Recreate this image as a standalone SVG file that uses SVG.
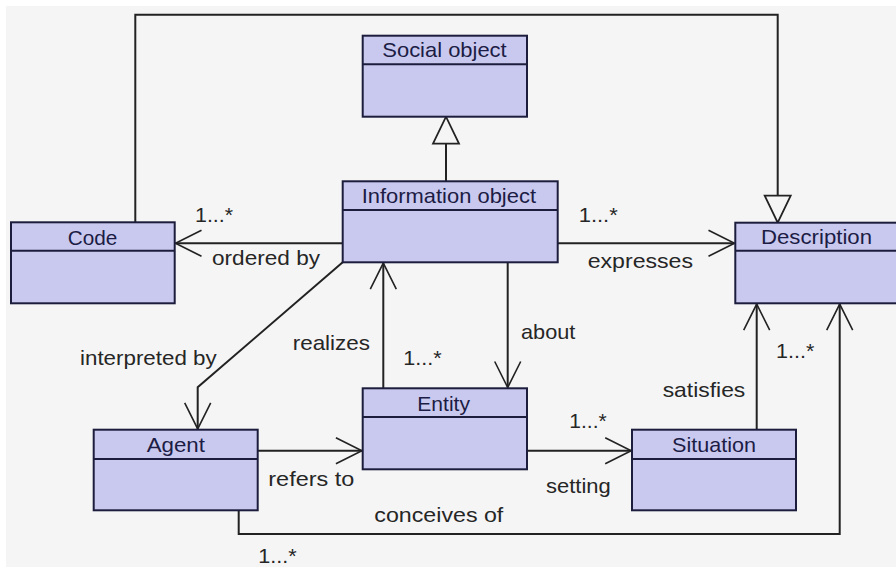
<svg xmlns="http://www.w3.org/2000/svg" width="896" height="567" viewBox="0 0 896 567">
<defs>
<style>
.box{fill:#c9c9f0;stroke:#1c1c3c;stroke-width:2}
.div{stroke:#1c1c3c;stroke-width:2}
.title{font-family:"Liberation Sans",Arial,sans-serif;font-size:21px;fill:#1c1c44}
.lbl{font-family:"Liberation Sans",Arial,sans-serif;font-size:21px;fill:#262626}
.con{fill:none;stroke:#222;stroke-width:2}
</style>
<marker id="open" markerUnits="userSpaceOnUse" viewBox="-30 -16 32 32" markerWidth="32" markerHeight="32" refX="0" refY="0" orient="auto" overflow="visible">
<path d="M-26,-13 L0,0 L-26,13" fill="none" stroke="#222" stroke-width="1.6"/>
</marker>
<marker id="tri" markerUnits="userSpaceOnUse" viewBox="-30 -16 32 32" markerWidth="32" markerHeight="32" refX="0" refY="0" orient="auto" overflow="visible">
<path d="M-27,-13 L0,0 L-27,13 Z" fill="#f5f5f5" stroke="#222" stroke-width="1.8"/>
</marker>
</defs>
<rect x="0" y="0" width="896" height="567" fill="#ffffff"/>
<rect x="6" y="6" width="890" height="561" fill="#f5f5f5"/>

<g id="connectors">
<path class="con" d="M135.3,222.3 V14.7 H777.7 V222.7" marker-end="url(#tri)"/>
<path class="con" d="M446,181.3 V116.7" marker-end="url(#tri)"/>
<path class="con" d="M342.7,243.3 H175.5" marker-end="url(#open)"/>
<path class="con" d="M557.7,243.3 H734.5" marker-end="url(#open)"/>
<path class="con" d="M342.7,262.3 L197.7,387.3 V428.9" marker-end="url(#open)"/>
<path class="con" d="M383.3,388.3 V263.1" marker-end="url(#open)"/>
<path class="con" d="M507.7,262.3 V387.5" marker-end="url(#open)"/>
<path class="con" d="M257.7,450.7 H361.9" marker-end="url(#open)"/>
<path class="con" d="M527,450.7 H631.2" marker-end="url(#open)"/>
<path class="con" d="M756.7,429.7 V304.1" marker-end="url(#open)"/>
<path class="con" d="M238.7,510.3 V534 H839.7 V304.1" marker-end="url(#open)"/>
</g>

<g id="social-object">
<rect class="box" x="362.7" y="35.7" width="164.3" height="81"/>
<line class="div" x1="362.7" y1="64.3" x2="527" y2="64.3"/>
<text class="title" x="382.3" y="57" textLength="124.4" lengthAdjust="spacingAndGlyphs">Social object</text>
</g>
<g id="information-object">
<rect class="box" x="342.7" y="181.3" width="215" height="81"/>
<line class="div" x1="342.7" y1="210" x2="557.7" y2="210"/>
<text class="title" x="361.7" y="203" textLength="174.3" lengthAdjust="spacingAndGlyphs">Information object</text>
</g>
<g id="code">
<rect class="box" x="11" y="222.3" width="163.7" height="81"/>
<line class="div" x1="11" y1="250.7" x2="174.7" y2="250.7"/>
<text class="title" x="67.7" y="245" textLength="49.6" lengthAdjust="spacingAndGlyphs">Code</text>
</g>
<g id="description">
<rect class="box" x="735.3" y="222.7" width="164" height="80.6"/>
<line class="div" x1="735.3" y1="250.7" x2="899.3" y2="250.7"/>
<text class="title" x="761" y="243.5" textLength="111" lengthAdjust="spacingAndGlyphs">Description</text>
</g>
<g id="agent">
<rect class="box" x="93.7" y="429.7" width="164" height="80.6"/>
<line class="div" x1="93.7" y1="459" x2="257.7" y2="459"/>
<text class="title" x="146.7" y="452" textLength="58.3" lengthAdjust="spacingAndGlyphs">Agent</text>
</g>
<g id="entity">
<rect class="box" x="362.7" y="388.3" width="164.3" height="81"/>
<line class="div" x1="362.7" y1="417" x2="527" y2="417"/>
<text class="title" x="417.3" y="411" textLength="52.7" lengthAdjust="spacingAndGlyphs">Entity</text>
</g>
<g id="situation">
<rect class="box" x="632" y="429.7" width="164" height="80.6"/>
<line class="div" x1="632" y1="459" x2="796" y2="459"/>
<text class="title" x="672" y="452" textLength="84" lengthAdjust="spacingAndGlyphs">Situation</text>
</g>

<g id="labels">
<text class="lbl" x="195" y="221.7" textLength="38" lengthAdjust="spacingAndGlyphs">1...*</text>
<text class="lbl" x="212" y="265" textLength="108" lengthAdjust="spacingAndGlyphs">ordered by</text>
<text class="lbl" x="578.7" y="221.7" textLength="39" lengthAdjust="spacingAndGlyphs">1...*</text>
<text class="lbl" x="587.7" y="268.3" textLength="105.3" lengthAdjust="spacingAndGlyphs">expresses</text>
<text class="lbl" x="80" y="365" textLength="136.7" lengthAdjust="spacingAndGlyphs">interpreted by</text>
<text class="lbl" x="292.7" y="350" textLength="77.3" lengthAdjust="spacingAndGlyphs">realizes</text>
<text class="lbl" x="403.3" y="365" textLength="38.4" lengthAdjust="spacingAndGlyphs">1...*</text>
<text class="lbl" x="521" y="339.3" textLength="54.3" lengthAdjust="spacingAndGlyphs">about</text>
<text class="lbl" x="268.3" y="485.7" textLength="86" lengthAdjust="spacingAndGlyphs">refers to</text>
<text class="lbl" x="374.3" y="521.7" textLength="129" lengthAdjust="spacingAndGlyphs">conceives of</text>
<text class="lbl" x="258.3" y="563" textLength="38.4" lengthAdjust="spacingAndGlyphs">1...*</text>
<text class="lbl" x="569.3" y="428.3" textLength="37.4" lengthAdjust="spacingAndGlyphs">1...*</text>
<text class="lbl" x="546" y="492.7" textLength="64.7" lengthAdjust="spacingAndGlyphs">setting</text>
<text class="lbl" x="662.7" y="397.3" textLength="82.6" lengthAdjust="spacingAndGlyphs">satisfies</text>
<text class="lbl" x="776" y="358.3" textLength="38.3" lengthAdjust="spacingAndGlyphs">1...*</text>
</g>
</svg>
